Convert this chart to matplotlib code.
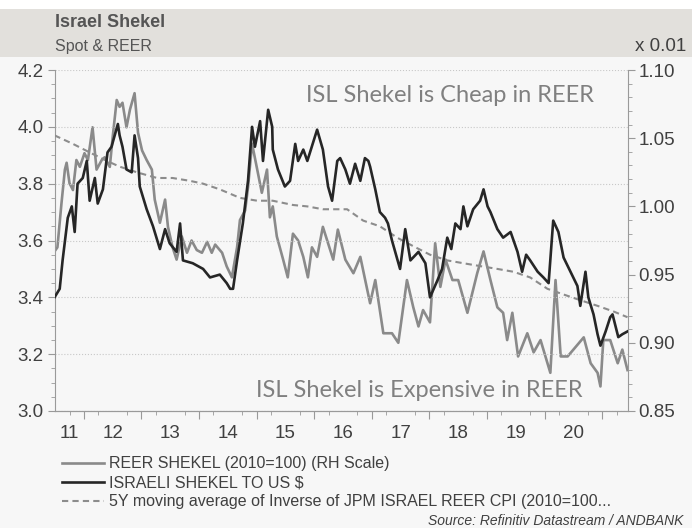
# Israel Shekel: spot vs REER (Datastream-style chart)
import matplotlib
matplotlib.use('Agg')
from matplotlib import pyplot as plt
from matplotlib.patches import Rectangle
from matplotlib.ticker import MultipleLocator, FuncFormatter
import numpy as np

plt.rcParams['font.family'] = ['Liberation Sans', 'DejaVu Sans']

# data (decimal years)
spot_t = [2011.49, 2011.58, 2011.63, 2011.72, 2011.79, 2011.84, 2011.89, 2011.98, 2012.05, 2012.10,
          2012.19, 2012.24, 2012.33, 2012.41, 2012.48, 2012.59, 2012.62, 2012.67, 2012.74, 2012.83,
          2012.88, 2012.94, 2012.97, 2013.09, 2013.20, 2013.32, 2013.41, 2013.49, 2013.61, 2013.67,
          2013.72, 2013.89, 2014.07, 2014.19, 2014.36, 2014.48, 2014.54, 2014.59, 2014.66, 2014.76,
          2014.85, 2014.92, 2014.97, 2015.06, 2015.11, 2015.20, 2015.27, 2015.28, 2015.37, 2015.49,
          2015.58, 2015.67, 2015.72, 2015.81, 2015.88, 2016.05, 2016.15, 2016.24, 2016.31, 2016.40,
          2016.45, 2016.54, 2016.62, 2016.71, 2016.80, 2016.88, 2016.94, 2016.97, 2017.06, 2017.14,
          2017.23, 2017.28, 2017.35, 2017.42, 2017.49, 2017.58, 2017.67, 2017.81, 2017.93, 2018.01,
          2018.14, 2018.22, 2018.31, 2018.38, 2018.45, 2018.54, 2018.59, 2018.66, 2018.76, 2018.88,
          2018.94, 2019.01, 2019.06, 2019.18, 2019.28, 2019.41, 2019.53, 2019.61, 2019.68, 2019.75,
          2019.88, 2019.98, 2020.07, 2020.15, 2020.24, 2020.33, 2020.45, 2020.57, 2020.62, 2020.71,
          2020.76, 2020.85, 2020.92, 2020.97, 2021.06, 2021.14, 2021.18, 2021.28, 2021.35, 2021.44]
spot = [3.40, 3.43, 3.53, 3.68, 3.72, 3.63, 3.80, 3.82, 3.88, 3.74,
        3.82, 3.73, 3.78, 3.91, 3.93, 4.01, 3.97, 3.93, 3.85, 3.84,
        3.97, 3.89, 3.79, 3.71, 3.65, 3.57, 3.64, 3.59, 3.56, 3.66,
        3.53, 3.52, 3.50, 3.47, 3.48, 3.45, 3.43, 3.43, 3.53, 3.66,
        3.81, 4.00, 3.93, 4.02, 3.88, 4.06, 4.00, 3.92, 3.85, 3.79,
        3.81, 3.94, 3.88, 3.92, 3.88, 3.99, 3.92, 3.79, 3.74, 3.88,
        3.89, 3.85, 3.80, 3.87, 3.81, 3.89, 3.88, 3.86, 3.78, 3.70,
        3.68, 3.66, 3.60, 3.55, 3.50, 3.64, 3.53, 3.56, 3.52, 3.40,
        3.46, 3.50, 3.61, 3.57, 3.66, 3.64, 3.72, 3.65, 3.71, 3.74,
        3.78, 3.72, 3.70, 3.64, 3.61, 3.63, 3.56, 3.49, 3.55, 3.53,
        3.49, 3.47, 3.45, 3.67, 3.63, 3.54, 3.49, 3.44, 3.37, 3.49,
        3.40, 3.34, 3.27, 3.23, 3.28, 3.33, 3.34, 3.26, 3.27, 3.28]

reer_t = [2011.49, 2011.54, 2011.61, 2011.67, 2011.70, 2011.75, 2011.81, 2011.87, 2011.93, 2012.01,
          2012.07, 2012.15, 2012.22, 2012.31, 2012.36, 2012.45, 2012.50, 2012.57, 2012.62, 2012.67,
          2012.74, 2012.80, 2012.88, 2012.94, 2013.01, 2013.09, 2013.18, 2013.23, 2013.32, 2013.41,
          2013.46, 2013.54, 2013.61, 2013.70, 2013.79, 2013.87, 2013.96, 2014.05, 2014.14, 2014.22,
          2014.28, 2014.40, 2014.48, 2014.57, 2014.66, 2014.71, 2014.80, 2014.85, 2014.92, 2015.01,
          2015.09, 2015.18, 2015.23, 2015.28, 2015.35, 2015.46, 2015.54, 2015.63, 2015.72, 2015.81,
          2015.89, 2015.96, 2016.05, 2016.15, 2016.24, 2016.33, 2016.41, 2016.54, 2016.68, 2016.80,
          2016.97, 2017.06, 2017.20, 2017.35, 2017.46, 2017.61, 2017.72, 2017.81, 2017.89, 2018.01,
          2018.10, 2018.19, 2018.28, 2018.40, 2018.50, 2018.66, 2018.83, 2018.94, 2019.06, 2019.18,
          2019.28, 2019.35, 2019.44, 2019.54, 2019.70, 2019.81, 2019.93, 2020.10, 2020.19, 2020.28,
          2020.40, 2020.54, 2020.68, 2020.80, 2020.92, 2020.97, 2021.02, 2021.14, 2021.27, 2021.35,
          2021.44]
reer = [96.7, 97.0, 100.2, 102.7, 103.2, 101.7, 101.2, 103.4, 102.9, 103.9,
        103.4, 105.8, 102.7, 103.4, 103.6, 102.9, 105.1, 107.8, 107.3, 107.6,
        105.8, 107.1, 108.3, 105.4, 104.1, 103.4, 102.7, 100.5, 98.8, 100.5,
        98.5, 97.0, 96.1, 97.8, 96.6, 97.5, 96.8, 96.6, 97.4, 96.6,
        97.2, 96.6, 95.6, 94.8, 97.0, 99.0, 99.7, 101.4, 104.6, 102.7,
        101.0, 102.7, 99.2, 100.0, 97.8, 96.1, 94.8, 98.0, 97.5, 96.3,
        94.8, 97.0, 96.3, 98.5, 97.3, 96.1, 98.3, 96.1, 95.1, 96.3,
        92.9, 94.6, 90.7, 90.7, 90.0, 94.6, 92.6, 91.2, 92.4, 91.5,
        97.3, 94.1, 96.1, 94.6, 94.6, 92.2, 95.1, 96.7, 94.6, 92.6,
        92.2, 90.2, 92.2, 89.0, 90.7, 89.3, 90.2, 87.8, 94.6, 89.0,
        89.0, 89.7, 90.4, 88.5, 87.8, 86.8, 90.2, 90.2, 88.5, 89.5,
        88.0]

ma_t = [2011.49, 2011.81, 2012.10, 2012.40, 2012.62, 2012.92, 2013.27, 2013.54, 2013.84, 2014.07,
        2014.36, 2014.71, 2015.01, 2015.28, 2015.63, 2015.88, 2016.15, 2016.45, 2016.57, 2016.85,
        2017.14, 2017.44, 2017.72, 2018.01, 2018.31, 2018.59, 2018.88, 2019.18, 2019.46, 2019.75,
        2020.05, 2020.33, 2020.62, 2020.92, 2021.20, 2021.44]
ma = [3.97, 3.94, 3.91, 3.88, 3.86, 3.84, 3.82, 3.82, 3.81, 3.80,
      3.78, 3.75, 3.74, 3.74, 3.725, 3.72, 3.71, 3.71, 3.71, 3.67,
      3.65, 3.61, 3.58, 3.55, 3.53, 3.52, 3.51, 3.50, 3.49, 3.47,
      3.43, 3.41, 3.39, 3.37, 3.35, 3.33]

year_labels = ['11', '12', '13', '14', '15', '16', '17', '18', '19', '20']
years = [2011, 2012, 2013, 2014, 2015, 2016, 2017, 2018, 2019, 2020]

labels = ['REER SHEKEL (2010=100) (RH Scale)',
          'ISRAELI SHEKEL TO US $',
          '5Y moving average of Inverse of JPM ISRAEL REER CPI (2010=100...']

# figure
fig = plt.figure(figsize=(6.92, 5.28), dpi=100, facecolor='#f7f7f7')
fig.patches.append(Rectangle((0, 0.892), 1, 0.091, transform=fig.transFigure,
                             facecolor='#e2e0dc', edgecolor='none', zorder=0))
fig.patches.append(Rectangle((0, 0.983), 1, 0.017, transform=fig.transFigure,
                             facecolor='white', edgecolor='none', zorder=0))

ax = fig.add_axes([0.0788, 0.2216, 0.828, 0.6458])
ax.set_facecolor('#f7f7f7')
ax2 = ax.twinx()

xmin, xmax = spot_t[0], spot_t[-1]

l1, = ax2.plot(reer_t, reer, color='#8a8a8a', linewidth=1.9, zorder=2)
l3, = ax.plot(ma_t, ma, color='#8c8c8c', linewidth=1.5, linestyle=(0, (3, 2)), zorder=3)
l2, = ax.plot(spot_t, spot, color='#262626', linewidth=1.9, zorder=4)
ax.set_zorder(ax2.get_zorder() + 1)
ax.patch.set_visible(False)
ax2.patch.set_visible(True)
ax2.patch.set_facecolor('#f7f7f7')

ax.set_xlim(xmin, xmax)
ax.set_ylim(3.0, 4.2)
ax2.set_ylim(85, 110)

# left axis
ax.yaxis.set_major_locator(MultipleLocator(0.2))
ax.yaxis.set_minor_locator(MultipleLocator(0.05))
ax.yaxis.set_major_formatter(FuncFormatter(lambda v, p: f'{v:.1f}'))
ax.grid(axis='y', which='major', color='#c8c8c8', linestyle=':', linewidth=0.8)
ax.tick_params(axis='y', which='major', length=5, color='#999999', labelsize=13.5,
               labelcolor='#404040', pad=3)
ax.tick_params(axis='y', which='minor', length=3, color='#999999')

# right axis
ax2.yaxis.set_major_locator(MultipleLocator(5))
ax2.yaxis.set_minor_locator(MultipleLocator(1))
ax2.yaxis.set_major_formatter(FuncFormatter(lambda v, p: f'{v / 100:.2f}'))
ax2.tick_params(axis='y', which='major', length=5, color='#999999', labelsize=13.5,
                labelcolor='#404040', pad=3)
ax2.tick_params(axis='y', which='minor', length=3, color='#999999')

# x axis: labels mid-year, long ticks at year starts, short at quarters
mids = [(max(y, xmin) + min(y + 1, xmax)) / 2 for y in years]
ax.set_xticks(mids, year_labels)
ax.set_xticks(np.arange(2011.75, xmax, 0.25), minor=True)
ax.tick_params(axis='x', which='major', length=0, labelsize=13.5, labelcolor='#404040', pad=10)
ax.tick_params(axis='x', which='minor', length=3, color='#999999')
sec = ax.secondary_xaxis('bottom')
sec.set_xticks(range(2012, 2022), [''] * 10)
sec.tick_params(length=6, color='#999999')
sec.spines['bottom'].set_visible(False)

for a in (ax, ax2):
    a.spines['top'].set_visible(False)
    for s in ('left', 'right', 'bottom'):
        a.spines[s].set_color('#9a9a9a')
ax.spines['right'].set_visible(False)
ax2.spines['left'].set_visible(False)

# texts
ax.text(0.439, 0.924, 'ISL Shekel is Cheap in REER', transform=ax.transAxes,
        fontsize=17, color='#808080', va='center', ha='left', family=['Lato', 'DejaVu Sans'])
ax.text(0.352, 0.059, 'ISL Shekel is Expensive in REER', transform=ax.transAxes,
        fontsize=17, color='#808080', va='center', ha='left', family=['Lato', 'DejaVu Sans'])

fig.text(0.0795, 0.958, 'Israel Shekel', fontsize=13, fontweight='bold', color='#555555', va='center')
fig.text(0.0795, 0.911, 'Spot & REER', fontsize=11.5, color='#555555', va='center')
fig.text(0.991, 0.911, 'x 0.01', fontsize=13.5, color='#404040', va='center', ha='right')
fig.text(0.987, 0.0133, 'Source: Refinitiv Datastream / ANDBANK', fontsize=10, style='italic',
         color='#404040', va='center', ha='right')

fig.legend([l1, l2, l3], labels, loc='upper left', bbox_to_anchor=(0.0896, 0.136),
           frameon=False, fontsize=11.5, handlelength=2.6, handletextpad=0.35,
           labelspacing=0.26, borderpad=0, borderaxespad=0, labelcolor='#404040')

plt.savefig('out.png', dpi=100, facecolor=fig.get_facecolor())
